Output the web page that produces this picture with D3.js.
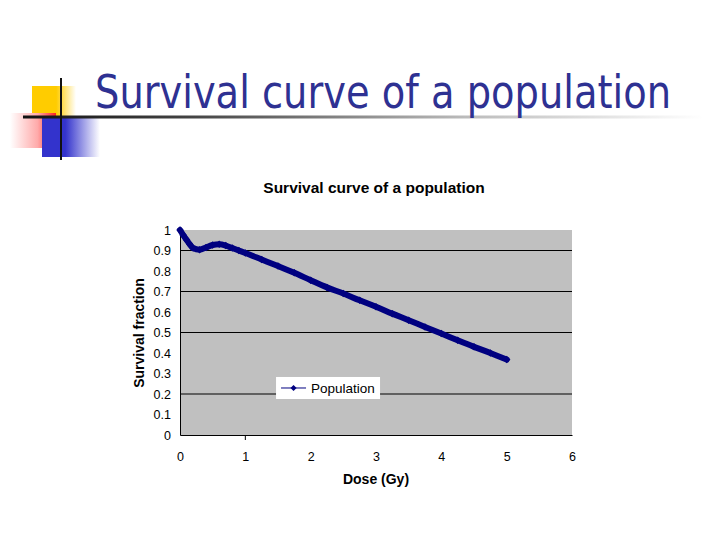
<!DOCTYPE html>
<html>
<head>
<meta charset="utf-8">
<script src="https://cdn.jsdelivr.net/npm/d3@7"></script>
<style>
  body { margin: 0; background: #fff; }
</style>
</head>
<body>
<div class="container"></div>
<script>
// values
var dose     = [0, 0.05, 0.1, 0.15, 0.2, 0.3, 0.4, 0.5, 0.6, 0.7, 0.8, 0.9, 1.0, 1.25, 1.5, 1.75, 2.0, 2.25, 2.5, 2.75, 3.0, 3.25, 3.5, 3.75, 4.0, 4.25, 4.5, 4.75, 5.0];
var survival = [1.0, 0.975, 0.952, 0.93, 0.912, 0.904, 0.915, 0.927, 0.93, 0.924, 0.912, 0.9, 0.888, 0.856, 0.824, 0.791, 0.755, 0.72, 0.69, 0.657, 0.626, 0.592, 0.56, 0.527, 0.495, 0.462, 0.43, 0.4, 0.368];
var xTicks = [0, 1, 2, 3, 4, 5, 6];
var yTicks = [0, 0.1, 0.2, 0.3, 0.4, 0.5, 0.6, 0.7, 0.8, 0.9, 1];
var gridShown = [0.2, 0.5, 0.7, 0.9];

var width = 720, height = 540;
var margin = {top: 230, right: 148, bottom: 105, left: 180};

var svg = d3.select(".container").append("svg")
    .attr("width", width)
    .attr("height", height);

var defs = svg.append("defs");
function grad(id, stops) {
  var g = defs.append("linearGradient").attr("id", id);
  stops.forEach(s => g.append("stop").attr("offset", s[0]).attr("stop-color", s[1]));
}
grad("gYellow", [["0%", "#ffcc00"], ["55%", "#ffcc00"], ["100%", "#ffffff"]]);
grad("gRed", [["0%", "#ffffff"], ["60%", "#ffaaaa"], ["100%", "#ff2222"]]);
grad("gBlue", [["0%", "#3333cc"], ["40%", "#3333cc"], ["100%", "#ffffff"]]);
grad("gRule", [["0%", "#111111"], ["25%", "#444444"], ["65%", "#bbbbbb"], ["100%", "#ffffff"]]);

// slide decoration
var deco = svg.append("g");
deco.append("rect").attr("x", 32).attr("y", 86).attr("width", 44).attr("height", 30).attr("fill", "url(#gYellow)");
deco.append("rect").attr("x", 10).attr("y", 113).attr("width", 46).attr("height", 35).attr("fill", "url(#gRed)");
deco.append("rect").attr("x", 42).attr("y", 117).attr("width", 58).attr("height", 40).attr("fill", "url(#gBlue)");
deco.append("rect").attr("x", 23).attr("y", 115.5).attr("width", 680).attr("height", 3).attr("fill", "url(#gRule)");
deco.append("line").attr("x1", 61).attr("x2", 61).attr("y1", 78).attr("y2", 160)
    .attr("stroke", "#111").attr("stroke-width", 2);

svg.append("text")
    .attr("x", 95).attr("y", 108)
    .attr("textLength", 576).attr("lengthAdjust", "spacingAndGlyphs")
    .style("font", "46px 'DejaVu Sans Condensed', 'DejaVu Sans', sans-serif")
    .attr("fill", "#2e3192")
    .text("Survival curve of a population");

// scales
var x = d3.scaleLinear().domain([0, 6]).range([margin.left, width - margin.right]);
var y = d3.scaleLinear().domain([0, 1]).range([height - margin.bottom, margin.top]);

// plot area
svg.append("rect")
    .attr("x", x(0)).attr("y", y(1))
    .attr("width", x(6) - x(0)).attr("height", y(0) - y(1))
    .attr("fill", "#c0c0c0");

svg.append("g")
  .selectAll("line")
  .data(gridShown)
  .join("line")
    .attr("x1", x(0)).attr("x2", x(6))
    .attr("y1", d => y(d)).attr("y2", d => y(d))
    .attr("stroke", "#000").attr("stroke-width", 1);

var font = "12.5px 'Liberation Sans', Arial, sans-serif";

// y axis
svg.append("g")
    .attr("transform", `translate(${x(0)},0)`)
    .style("font", font)
    .call(d3.axisLeft(y).tickValues(yTicks).tickFormat(d3.format("")).tickSize(0).tickPadding(9))
    .call(g => g.select(".domain").attr("stroke", "#000"))
    .call(g => g.selectAll("text").attr("fill", "#000"));

// x axis
svg.append("g")
    .attr("transform", `translate(0,${y(0)})`)
    .style("font", font)
    .call(d3.axisBottom(x).tickValues(xTicks).tickFormat(d3.format("d")).tickSize(0).tickPadding(17))
    .call(g => g.select(".domain").attr("stroke", "#000"))
    .call(g => g.selectAll("text").attr("fill", "#000"));

svg.append("line")
    .attr("x1", x(1)).attr("x2", x(1))
    .attr("y1", y(0)).attr("y2", y(0) + 5)
    .attr("stroke", "#000");

// series
var pts = dose.map((d, i) => [d, survival[i]]);
var line = d3.line().x(d => x(d[0])).y(d => y(d[1])).curve(d3.curveMonotoneX);

svg.append("path")
    .datum(pts)
    .attr("fill", "none")
    .attr("stroke", "#000080")
    .attr("stroke-width", 6)
    .attr("stroke-linejoin", "round")
    .attr("stroke-linecap", "round")
    .attr("d", line);

svg.append("g")
  .selectAll("path")
  .data(pts)
  .join("path")
    .attr("transform", d => `translate(${x(d[0])},${y(d[1])})`)
    .attr("d", d3.symbol(d3.symbolDiamond2, 36))
    .attr("fill", "#000080");

// legend
var leg = svg.append("g").attr("transform", `translate(${x(1.47)},${y(0.283)})`);
leg.append("rect").attr("width", 104).attr("height", 22).attr("fill", "#fff");
leg.append("line").attr("x1", 5).attr("x2", 30).attr("y1", 11).attr("y2", 11)
    .attr("stroke", "#000080").attr("stroke-width", 1);
leg.append("path").attr("transform", "translate(17.5,11)")
    .attr("d", d3.symbol(d3.symbolDiamond2, 24)).attr("fill", "#000080");
leg.append("text").attr("x", 35).attr("y", 16)
    .style("font", "13.5px 'Liberation Sans', Arial, sans-serif")
    .text("Population");

// titles
svg.append("text")
    .attr("x", 374).attr("y", 193)
    .attr("text-anchor", "middle")
    .style("font", "bold 15.5px 'Liberation Sans', Arial, sans-serif")
    .text("Survival curve of a population");

svg.append("text")
    .attr("x", 376).attr("y", 484)
    .attr("text-anchor", "middle")
    .style("font", "bold 14px 'Liberation Sans', Arial, sans-serif")
    .text("Dose  (Gy)");

svg.append("text")
    .attr("transform", "translate(144,333) rotate(-90)")
    .attr("text-anchor", "middle")
    .style("font", "bold 14px 'Liberation Sans', Arial, sans-serif")
    .text("Survival fraction");
</script>
</body>
</html>
